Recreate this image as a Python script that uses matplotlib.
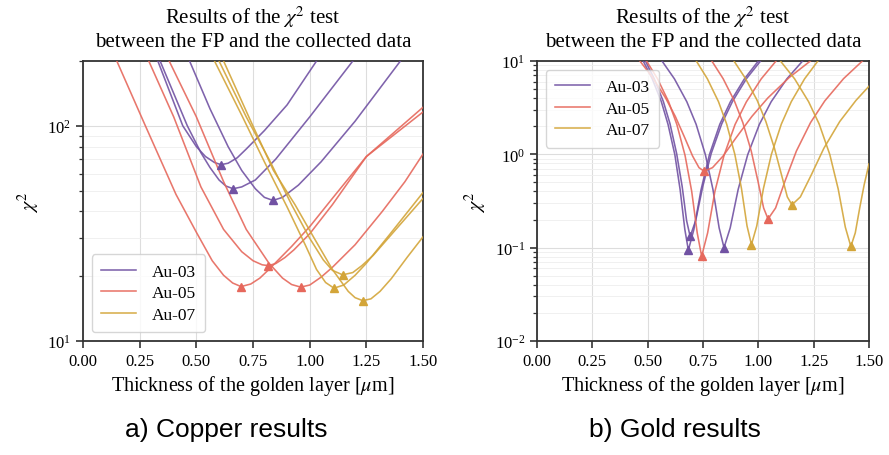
import numpy as np
import matplotlib
matplotlib.use("Agg")
import matplotlib.pyplot as plt
from matplotlib.ticker import LogLocator, NullFormatter

plt.rcParams['font.family'] = ['Liberation Serif', 'DejaVu Serif']
plt.rcParams['mathtext.fontset'] = 'stix'

C_PURPLE = '#7152a3'
C_RED = '#e6685c'
C_YELLOW = '#d3a539'

# ---- copper (left) : thickness [um] / chi2, one list per curve
cu_au03 = [
    ([0.33, 0.44, 0.50, 0.54, 0.58, 0.609, 0.64, 0.68, 0.72, 0.80, 0.90, 1.03],
     [200, 100, 80, 72, 67.5, 66, 67, 71, 78, 95, 125, 200]),
    ([0.34, 0.46, 0.52, 0.56, 0.60, 0.63, 0.662, 0.70, 0.76, 0.85, 1.00, 1.19],
     [200, 100, 75, 64, 56, 52.5, 51, 52, 56, 70, 110, 200]),
    ([0.47, 0.56, 0.64, 0.70, 0.76, 0.80, 0.838, 0.88, 0.95, 1.05, 1.20, 1.40],
     [200, 120, 80, 62, 51, 46.5, 45, 46.5, 53, 68, 105, 200]),
]
cu_au05 = [
    ([0.149, 0.275, 0.41, 0.50, 0.57, 0.62, 0.66, 0.697, 0.74, 0.78, 0.82, 0.92, 1.00, 1.10, 1.25, 1.50],
     [200, 100, 48, 32, 23.6, 20.2, 18.6, 17.9, 18.4, 19.6, 21.5, 27.5, 34, 46, 72, 116]),
    ([0.29, 0.40, 0.52, 0.62, 0.70, 0.75, 0.79, 0.817, 0.85, 0.89, 0.93, 1.00, 1.10, 1.25, 1.50],
     [200, 110, 52, 33, 26, 23.6, 22.6, 22.4, 22.9, 24.4, 26.5, 31.5, 43, 72, 122]),
    ([0.38, 0.50, 0.62, 0.72, 0.82, 0.88, 0.92, 0.96, 1.00, 1.05, 1.10, 1.20, 1.32, 1.42, 1.50],
     [200, 110, 55, 33, 23, 19.6, 18.3, 17.8, 18.2, 19.8, 22, 28, 40, 55, 74]),
]
cu_au07 = [
    ([0.58, 0.70, 0.80, 0.90, 0.98, 1.03, 1.07, 1.107, 1.15, 1.20, 1.25, 1.35, 1.50],
     [200, 112, 68, 42, 28, 21.5, 18.7, 17.6, 18.2, 20.2, 23, 31, 49]),
    ([0.60, 0.72, 0.82, 0.92, 1.00, 1.06, 1.10, 1.145, 1.19, 1.23, 1.28, 1.38, 1.50],
     [200, 110, 70, 43, 30, 23.8, 21.3, 20.3, 20.8, 22.4, 25, 33, 46]),
    ([0.62, 0.74, 0.84, 0.935, 1.02, 1.10, 1.17, 1.20, 1.234, 1.27, 1.31, 1.36, 1.43, 1.50],
     [200, 105, 62, 43, 30, 21.5, 17, 15.9, 15.4, 15.7, 17, 19.5, 24.5, 30.5]),
]

# ---- gold (right)
au_au03 = [
    ([0.480, 0.521, 0.562, 0.592, 0.623, 0.647, 0.668, 0.684, 0.709, 0.741, 0.779, 0.826, 0.874, 0.937, 1.000],
     [10, 6.43, 3.66, 2.10, 0.99, 0.415, 0.157, 0.094, 0.157, 0.415, 0.99, 2.10, 3.66, 6.43, 10]),
    ([0.490, 0.530, 0.571, 0.601, 0.631, 0.656, 0.676, 0.692, 0.717, 0.749, 0.787, 0.835, 0.883, 0.946, 1.010],
     [10, 6.45, 3.68, 2.13, 1.02, 0.452, 0.195, 0.132, 0.195, 0.452, 1.02, 2.13, 3.68, 6.45, 10]),
    ([0.565, 0.621, 0.677, 0.719, 0.761, 0.795, 0.823, 0.845, 0.873, 0.909, 0.952, 1.005, 1.058, 1.129, 1.200],
     [10, 6.44, 3.66, 2.10, 0.99, 0.421, 0.163, 0.10, 0.163, 0.421, 0.99, 2.10, 3.66, 6.44, 10]),
]
au_au05 = [
    ([0.495, 0.545, 0.595, 0.632, 0.669, 0.699, 0.724, 0.744, 0.771, 0.804, 0.845, 0.895, 0.946, 1.013, 1.080],
     [10, 6.43, 3.65, 2.09, 0.974, 0.402, 0.144, 0.081, 0.144, 0.402, 0.974, 2.09, 3.65, 6.43, 10]),
    ([0.465, 0.523, 0.581, 0.625, 0.668, 0.703, 0.732, 0.755, 0.793, 0.841, 0.899, 0.971, 1.043, 1.139, 1.235],
     [10, 6.64, 4.02, 2.55, 1.50, 0.96, 0.72, 0.66, 0.72, 0.96, 1.50, 2.55, 4.02, 6.64, 10]),
    ([0.790, 0.841, 0.892, 0.930, 0.968, 0.998, 1.024, 1.044, 1.078, 1.121, 1.172, 1.236, 1.300, 1.385, 1.470],
     [10, 6.47, 3.73, 2.19, 1.085, 0.52, 0.266, 0.203, 0.266, 0.52, 1.085, 2.19, 3.73, 6.47, 10]),
]
au_au07 = [
    ([0.720, 0.770, 0.820, 0.857, 0.894, 0.924, 0.949, 0.969, 0.993, 1.023, 1.059, 1.104, 1.149, 1.209, 1.269],
     [10, 6.44, 3.67, 2.11, 0.998, 0.429, 0.171, 0.108, 0.171, 0.429, 0.998, 2.11, 3.67, 6.44, 10]),
    ([0.890, 0.942, 0.995, 1.034, 1.073, 1.105, 1.131, 1.152, 1.190, 1.239, 1.296, 1.368, 1.441, 1.500],
     [10, 6.50, 3.78, 2.25, 1.16, 0.60, 0.35, 0.288, 0.35, 0.60, 1.16, 2.25, 3.78, 5.37]),
    ([1.100, 1.164, 1.227, 1.275, 1.323, 1.361, 1.393, 1.418, 1.438, 1.458, 1.478, 1.500],
     [10, 6.44, 3.67, 2.11, 0.994, 0.424, 0.166, 0.103, 0.144, 0.266, 0.47, 0.79]),
]

labels = ['Au-03', 'Au-05', 'Au-07']
colors = [C_PURPLE, C_RED, C_YELLOW]
title = 'Results of the $\\chi^2$ test\nbetween the FP and the collected data'


def draw(ax, groups, ylim, loc):
    for curves, col, lab in zip(groups, colors, labels):
        for i, (x, y) in enumerate(curves):
            x = np.array(x)
            y = np.array(y)
            ax.plot(x, y, color=col, lw=1.15, alpha=0.9,
                    label=lab if i == 0 else None, zorder=3)
            k = np.argmin(y)
            ax.plot(x[k], y[k], marker='^', color=col, ms=5.5, zorder=4)
    ax.set_yscale('log')
    ax.set_xlim(0, 1.5)
    ax.set_ylim(*ylim)
    ax.set_xticks([0, 0.25, 0.5, 0.75, 1.0, 1.25, 1.5])
    ax.set_xticklabels(['0.00', '0.25', '0.50', '0.75', '1.00', '1.25', '1.50'])
    ax.yaxis.set_minor_locator(LogLocator(base=10, subs=np.arange(2, 10)))
    ax.yaxis.set_minor_formatter(NullFormatter())
    ax.grid(True, which='major', color='#dddddd', lw=0.8)
    ax.grid(True, which='minor', axis='y', color='#eeeeee', lw=0.6)
    ax.set_axisbelow(True)
    for s in ax.spines.values():
        s.set_color('#333333')
        s.set_linewidth(1.3)
    ax.tick_params(which='major', direction='out', length=5, width=1.2,
                   labelsize=12, color='#333333')
    ax.tick_params(which='minor', direction='out', length=3, width=0.9,
                   color='#333333')
    ax.set_title(title, fontsize=15, linespacing=1.2, pad=11)
    ax.set_xlabel('Thickness of the golden layer [$\\mu$m]', fontsize=14.5,
                  labelpad=3)
    ax.set_ylabel('$\\chi^2$', fontsize=14.5)
    leg = ax.legend(loc=loc, fontsize=12.5, frameon=True, borderpad=0.55,
                    handlelength=2.0, handletextpad=0.9, labelspacing=0.3,
                    fancybox=True)
    leg.get_frame().set_edgecolor('#cccccc')


fig = plt.figure(figsize=(8.89, 4.56), dpi=100)
ax1 = fig.add_axes([0.0934, 0.25, 0.3825, 0.614])
ax2 = fig.add_axes([0.604, 0.25, 0.3735, 0.614])

draw(ax1, [cu_au03, cu_au05, cu_au07], (10, 200), 'lower left')
draw(ax2, [au_au03, au_au05, au_au07], (0.01, 10), 'upper left')

cap_font = ['Liberation Sans Narrow', 'Liberation Sans', 'DejaVu Sans']
fig.text(0.254, 0.042, 'a) Copper results', fontsize=19, ha='center',
         family=cap_font)
fig.text(0.759, 0.042, 'b) Gold results', fontsize=19, ha='center',
         family=cap_font)

fig.savefig('out.png', dpi=100)
